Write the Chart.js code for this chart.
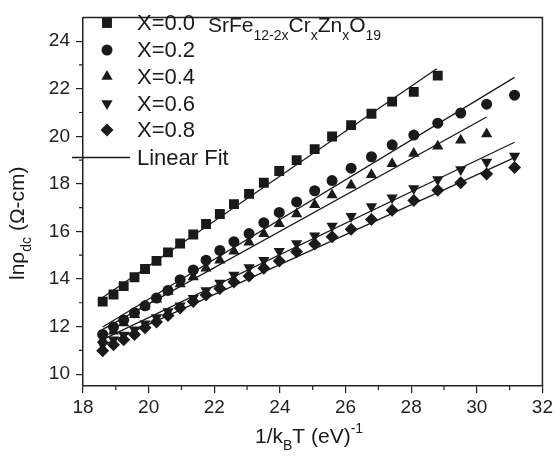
<!DOCTYPE html>
<html>
<head>
<meta charset="utf-8">
<script src="https://cdn.jsdelivr.net/npm/chart.js@4.4.0/dist/chart.umd.min.js"></script>
<style>
  body { margin: 0; background: #fff; }
</style>
</head>
<body>
<canvas id="myChart" width="556" height="462"></canvas>
<script>
// 1/kBT values (eV^-1), shared by all samples
const invKT = [18.60, 18.93, 19.24, 19.57, 19.89, 20.24, 20.59, 20.96, 21.36, 21.75, 22.17, 22.60, 23.06,
  23.51, 23.98, 24.51, 25.06, 25.59, 26.17, 26.79, 27.42, 28.08, 28.81, 29.51, 30.30, 31.15];

// ln(rho_dc) for each composition
const lnRho00 = [13.05, 13.35, 13.70, 14.07, 14.42, 14.76, 15.12, 15.49, 15.87, 16.31, 16.73, 17.15, 17.58,
  18.05, 18.54, 19.00, 19.46, 19.99, 20.47, 20.95, 21.46, 21.87, 22.55];
const lnRho02 = [11.67, 11.98, 12.28, 12.58, 12.87, 13.20, 13.52, 13.97, 14.38, 14.79, 15.20, 15.57, 15.91,
  16.37, 16.80, 17.24, 17.71, 18.14, 18.66, 19.14, 19.64, 20.05, 20.55, 20.98, 21.35, 21.73];
const lnRho04 = [11.45, 11.80, 12.15, 12.50, 12.85, 13.15, 13.47, 13.79, 14.08, 14.45, 14.79, 15.17, 15.55,
  15.90, 16.32, 16.73, 17.12, 17.53, 17.94, 18.38, 18.85, 19.28, 19.58, 19.83, 20.10];
const lnRho06 = [11.23, 11.44, 11.64, 11.87, 12.12, 12.38, 12.63, 12.87, 13.19, 13.52, 13.83, 14.17, 14.48,
  14.79, 15.17, 15.49, 15.82, 16.23, 16.64, 17.05, 17.42, 17.80, 18.18, 18.60, 18.92, 19.17];
const lnRho08 = [10.98, 11.23, 11.44, 11.67, 11.95, 12.19, 12.46, 12.78, 13.05, 13.33, 13.60, 13.87, 14.13,
  14.45, 14.76, 15.15, 15.47, 15.78, 16.09, 16.50, 16.89, 17.30, 17.73, 18.05, 18.42, 18.69];

// linear fit end points [x, y]
const fit00 = [[18.60, 13.22], [28.78, 22.84]];
const fit02 = [[18.60, 11.98], [31.15, 22.48]];
const fit04 = [[18.60, 11.88], [30.30, 20.81]];
const fit06 = [[18.55, 11.42], [31.15, 19.75]];
const fit08 = [[18.55, 11.18], [31.15, 19.10]];

const labels = ["X=0.0", "X=0.2", "X=0.4", "X=0.6", "X=0.8"];
const xTicks = [18, 20, 22, 24, 26, 28, 30, 32];
const yTicks = [10, 12, 14, 16, 18, 20, 22, 24];

const ink = "#1a1a1a";
const markers = [
  { style: "rect", rot: 0, r: 7 },
  { style: "circle", rot: 0, r: 5.5 },
  { style: "triangle", rot: 0, r: 6.5 },
  { style: "triangle", rot: 180, r: 6.5 },
  { style: "rectRot", rot: 0, r: 6.5 }
];

const series = [lnRho00, lnRho02, lnRho04, lnRho06, lnRho08];
const fits = [fit00, fit02, fit04, fit06, fit08];

let datasets = [];
series.forEach(function(ys, i){
  datasets.push({
    label: labels[i],
    data: ys.map((y, k) => ({ x: invKT[k], y: y })),
    showLine: false,
    pointStyle: markers[i].style,
    pointRotation: markers[i].rot,
    pointRadius: markers[i].r,
    pointBackgroundColor: ink,
    pointBorderColor: ink,
    pointBorderWidth: 0
  });
});
fits.forEach(function(f){
  datasets.push({
    label: "Linear Fit",
    data: f.map(p => ({ x: p[0], y: p[1] })),
    showLine: true,
    borderColor: ink,
    borderWidth: 1.3,
    pointRadius: 0
  });
});

const font = "'Liberation Sans', Arial, sans-serif";

function writeParts(ctx, x, y, parts){
  // parts: [text, size, shift]
  parts.forEach(function(p){
    ctx.font = p[1] + "px " + font;
    ctx.fillText(p[0], x, y + p[2]);
    x += ctx.measureText(p[0]).width;
  });
}

const decor = {
  id: "decor",
  afterDraw(chart){
    const ctx = chart.ctx;
    const a = chart.chartArea;
    const xs = chart.scales.x, ys = chart.scales.y;
    ctx.save();
    ctx.strokeStyle = "#222";
    ctx.lineWidth = 1.5;
    // top and right of the frame
    ctx.beginPath();
    ctx.moveTo(a.left, a.top); ctx.lineTo(a.right, a.top); ctx.lineTo(a.right, a.bottom);
    ctx.stroke();
    // minor ticks
    ctx.lineWidth = 1.2;
    ctx.beginPath();
    for(let v = 19; v < 32; v += 2){
      const px = xs.getPixelForValue(v);
      ctx.moveTo(px, a.bottom); ctx.lineTo(px, a.bottom + 4);
    }
    for(let v = 11; v < 25; v += 2){
      const py = ys.getPixelForValue(v);
      ctx.moveTo(a.left, py); ctx.lineTo(a.left - 4, py);
    }
    ctx.stroke();

    // legend
    ctx.fillStyle = ink;
    ctx.textBaseline = "middle";
    const rowY = [23, 50, 76.5, 103.5, 130, 157.5];
    markers.forEach(function(m, i){
      Chart.helpers.drawPoint(ctx, { pointStyle: m.style, rotation: m.rot, radius: m.r, borderWidth: 0 }, 107, rowY[i]);
      ctx.font = "22px " + font;
      ctx.fillText(labels[i], 137, rowY[i] + 1);
    });
    ctx.strokeStyle = ink;
    ctx.lineWidth = 1.3;
    ctx.beginPath();
    ctx.moveTo(72, rowY[5]); ctx.lineTo(130, rowY[5]);
    ctx.stroke();
    ctx.fillText("Linear Fit", 137, rowY[5] + 1);

    // compound formula
    ctx.textBaseline = "alphabetic";
    writeParts(ctx, 208, 32, [["SrFe", 21, 0], ["12-2x", 14, 8], ["Cr", 21, 0], ["x", 14, 8],
      ["Zn", 21, 0], ["x", 14, 8], ["O", 21, 0], ["19", 14, 8]]);

    // x axis title
    writeParts(ctx, 255, 443, [["1/k", 21, 0], ["B", 14, 7], ["T (eV)", 21, 0], ["-1", 14, -10]]);

    // y axis title
    ctx.translate(24, 280);
    ctx.rotate(-Math.PI / 2);
    writeParts(ctx, 0, 0, [["ln\u03c1", 21, 0], ["dc", 14, 7], [" (\u03a9-cm)", 21, 0]]);
    ctx.restore();
  }
};

const ctx = document.getElementById("myChart");

new Chart(ctx, {
  type: "scatter",
  data: { datasets: datasets },
  plugins: [decor],
  options: {
    responsive: false,
    animation: false,
    layout: { padding: { top: 8, right: 12, left: 0, bottom: 0 } },
    plugins: { legend: { display: false }, tooltip: { enabled: false } },
    scales: {
      x: {
        type: "linear", min: 18, max: 32,
        afterBuildTicks: s => { s.ticks = xTicks.map(v => ({ value: v })); },
        afterFit: s => { s.height = 76; },
        grid: { drawOnChartArea: false, tickLength: 7, color: "#222", lineWidth: 1.2 },
        border: { color: "#222", width: 1.5 },
        ticks: { color: "#222", font: { family: font, size: 19 }, padding: 3, maxRotation: 0 }
      },
      y: {
        type: "linear", min: 9.5, max: 25,
        afterBuildTicks: s => { s.ticks = yTicks.map(v => ({ value: v })); },
        afterFit: s => { s.width = 83; },
        grid: { drawOnChartArea: false, tickLength: 7, color: "#222", lineWidth: 1.2 },
        border: { color: "#222", width: 1.5 },
        ticks: { color: "#222", font: { family: font, size: 19 }, padding: 6 }
      }
    }
  }
});
</script>
</body>
</html>
